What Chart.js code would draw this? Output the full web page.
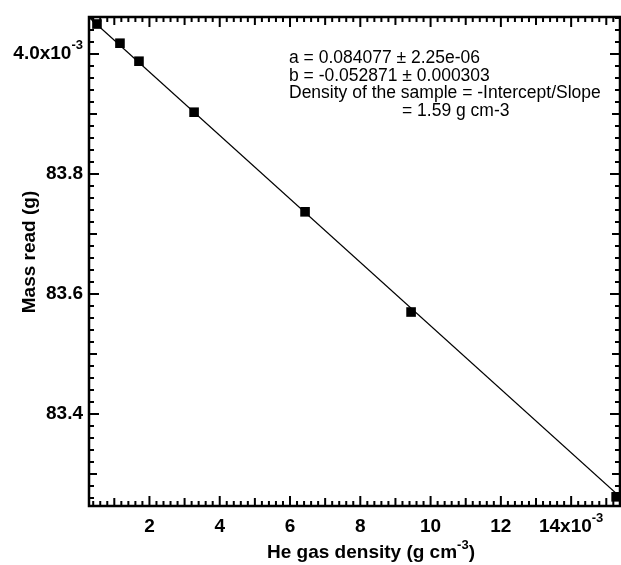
<!DOCTYPE html>
<html>
<head>
<meta charset="utf-8">
<script src="https://cdn.jsdelivr.net/npm/chart.js@4/dist/chart.umd.min.js"></script>
<style>
  html, body { margin: 0; padding: 0; background: #fff; }
  #wrap { width: 621px; height: 565px; }
</style>
</head>
<body>
<div id="wrap"><canvas id="massChart" width="621" height="565"></canvas></div>
<script>
// He gas density (x 10^-3 g cm^-3) vs mass read (g)
const densityValues = [0.507, 1.161, 1.702, 3.27, 6.428, 9.445, 15.28];
const massValues = [84.050, 84.018, 83.988, 83.903, 83.737, 83.570, 83.262];

// fitted straight line, read at the two ends of the plot
const fitLineX = [0.28, 15.39];
const fitLineY = [84.061, 83.262];

const xTickValues = [2, 4, 6, 8, 10, 12, 14];
const xTickLabels = ['2', '4', '6', '8', '10', '12', '14x10'];
const xTickSuper = ['', '', '', '', '', '', '-3'];
const yTickValues = [83.4, 83.6, 83.8, 84.0];
const yTickLabels = ['83.4', '83.6', '83.8', '4.0x10'];
const yTickSuper = ['', '', '', '-3'];

const fitText = [
  'a = 0.084077 \u00b1 2.25e-06',
  'b = -0.052871 \u00b1 0.000303',
  'Density of the sample = -Intercept/Slope',
  '= 1.59 g cm-3'
];

const FONT = '"Liberation Sans", Arial, sans-serif';

// label with a raised exponent, anchored by 'center' or 'right'
function drawSupLabel(ctx, text, sup, x, y, align, size) {
  ctx.font = 'bold ' + size + 'px ' + FONT;
  const w1 = ctx.measureText(text).width;
  ctx.font = 'bold ' + Math.round(size * 0.68) + 'px ' + FONT;
  const w2 = sup ? ctx.measureText(sup).width : 0;
  const total = w1 + w2;
  let start = align === 'right' ? x - total : x - total / 2;
  ctx.textAlign = 'left';
  ctx.textBaseline = 'middle';
  ctx.font = 'bold ' + size + 'px ' + FONT;
  ctx.fillText(text, start, y);
  if (sup) {
    ctx.font = 'bold ' + Math.round(size * 0.68) + 'px ' + FONT;
    ctx.fillText(sup, start + w1, y - size * 0.45);
  }
}

const axesPlugin = {
  id: 'axesPlugin',
  afterDraw(chart) {
    const ctx = chart.ctx;
    const { left, right, top, bottom } = chart.chartArea;
    const xs = chart.scales.x;
    const ys = chart.scales.y;
    ctx.save();
    ctx.strokeStyle = '#000';
    ctx.fillStyle = '#000';

    // inward ticks on all four sides
    ctx.lineWidth = 2;
    ctx.beginPath();
    for (let i = Math.ceil(xs.min * 5); i <= Math.floor(xs.max * 5); i++) {
      const px = xs.getPixelForValue(i / 5);
      const len = i % 10 === 0 ? 10 : (i % 5 === 0 ? 8 : 5);
      ctx.moveTo(px, bottom); ctx.lineTo(px, bottom - len);
      ctx.moveTo(px, top); ctx.lineTo(px, top + len);
    }
    for (let i = Math.ceil(ys.min * 50); i <= Math.floor(ys.max * 50); i++) {
      const py = ys.getPixelForValue(i / 50);
      const len = i % 10 === 0 ? 10 : (i % 5 === 0 ? 8 : 5);
      ctx.moveTo(left, py); ctx.lineTo(left + len, py);
      ctx.moveTo(right, py); ctx.lineTo(right - len, py);
    }
    ctx.stroke();

    // frame
    ctx.lineWidth = 2.5;
    ctx.strokeRect(left, top, right - left, bottom - top);

    // tick labels
    xTickValues.forEach((v, i) => {
      drawSupLabel(ctx, xTickLabels[i], xTickSuper[i], xs.getPixelForValue(v), 527, 'center', 19);
    });
    yTickValues.forEach((v, i) => {
      drawSupLabel(ctx, yTickLabels[i], yTickSuper[i], 83, ys.getPixelForValue(v), 'right', 19);
    });

    // axis titles
    ctx.font = 'bold 19px ' + FONT;
    ctx.textBaseline = 'middle';
    ctx.save();
    ctx.translate(30, 252);
    ctx.rotate(-Math.PI / 2);
    ctx.textAlign = 'center';
    ctx.fillText('Mass read (g)', 0, 0);
    ctx.restore();

    const t1 = 'He gas density (g cm';
    const t2 = '-3';
    const t3 = ')';
    const w1 = ctx.measureText(t1).width;
    const w3 = ctx.measureText(t3).width;
    ctx.font = 'bold 13px ' + FONT;
    const w2 = ctx.measureText(t2).width;
    let sx = 371 - (w1 + w2 + w3) / 2;
    ctx.textAlign = 'left';
    ctx.font = 'bold 19px ' + FONT;
    ctx.fillText(t1, sx, 553);
    ctx.fillText(t3, sx + w1 + w2, 553);
    ctx.font = 'bold 13px ' + FONT;
    ctx.fillText(t2, sx + w1, 545);

    // fit annotation
    ctx.font = '17.5px ' + FONT;
    ctx.textAlign = 'left';
    ctx.fillText(fitText[0], 289, 58);
    ctx.fillText(fitText[1], 289, 76);
    ctx.fillText(fitText[2], 289, 93);
    ctx.fillText(fitText[3], 402, 111);
    ctx.restore();
  }
};

const ctx = document.getElementById('massChart').getContext('2d');
new Chart(ctx, {
  type: 'scatter',
  data: {
    datasets: [
      {
        label: 'Mass read',
        data: densityValues.map((x, i) => ({ x: x, y: massValues[i] })),
        pointStyle: 'rect',
        pointRadius: 6.8,
        pointBorderWidth: 0,
        backgroundColor: '#000',
        borderColor: '#000',
        showLine: false
      },
      {
        label: 'Fit',
        data: fitLineX.map((x, i) => ({ x: x, y: fitLineY[i] })),
        showLine: true,
        borderColor: '#000',
        borderWidth: 1.3,
        pointRadius: 0
      }
    ]
  },
  options: {
    responsive: false,
    animation: false,
    layout: { autoPadding: false, padding: { left: 89, right: 1, top: 17, bottom: 59 } },
    plugins: {
      legend: { display: false },
      tooltip: { enabled: false }
    },
    scales: {
      x: { type: 'linear', display: false, min: 0.28, max: 15.39 },
      y: { type: 'linear', display: false, min: 83.2467, max: 84.0617 }
    }
  },
  plugins: [axesPlugin]
});
</script>
</body>
</html>
